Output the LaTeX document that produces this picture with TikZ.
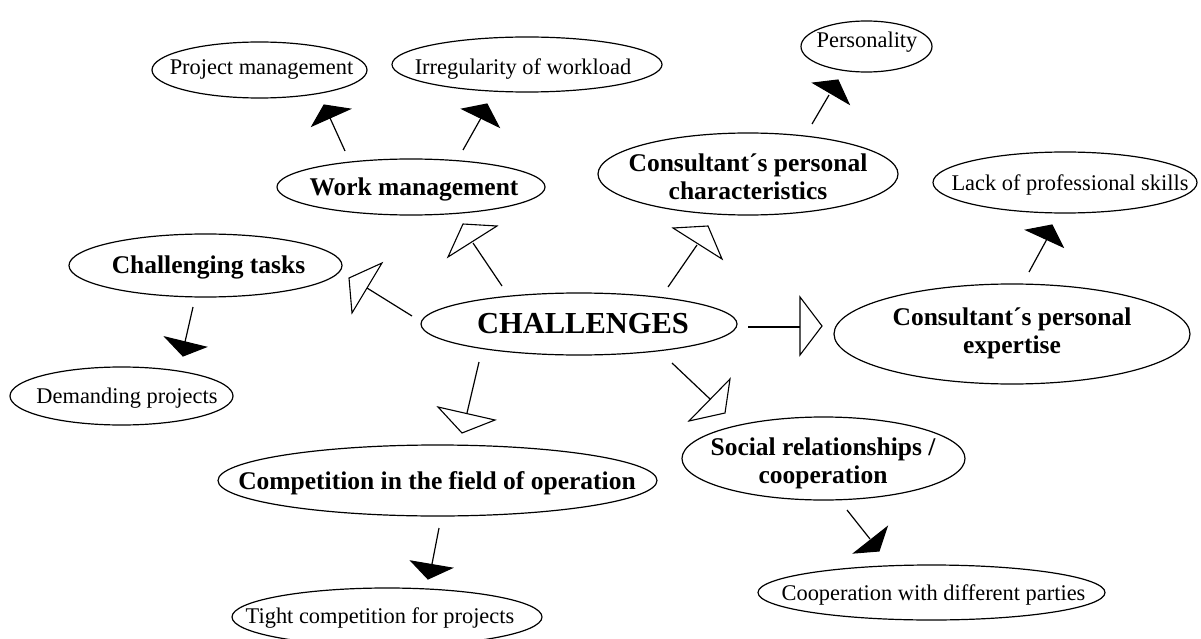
\documentclass[tikz,border=0pt]{standalone}
\usepackage{fontspec}
\setmainfont{Liberation Serif}
\tikzset{
  lbl/.style={inner sep=0pt, align=center, anchor=base},
  lbltwo/.style={inner sep=0pt, align=center, anchor=center},
  ovalline/.style={line width=1.2pt},
  bigfont/.style={font=\fontsize{30.5}{33}\selectfont\bfseries},
  boldfont/.style={font=\fontsize{25.5}{28}\selectfont\bfseries},
  regfont/.style={font=\fontsize{22.4}{25}\selectfont},
  conn/.style={line width=1.2pt},
  tri/.style={line width=1.1pt, line join=miter},
}
\newcommand\arrowtri[6]{%
  \draw[conn] #2 -- #3;
  \draw[tri,fill=#1] #4 -- #5 -- #6 -- cycle;}
\begin{document}
\begin{tikzpicture}[x=1pt,y=-1pt]
\useasboundingbox (0,0) rectangle (1201,639);
% ellipse centres
\coordinate (chc) at (579,324);
\coordinate (wmc) at (411,187);
\coordinate (pmc) at (259.5,70);
\coordinate (iwc) at (527,64.5);
\coordinate (pec) at (866.5,46.5);
\coordinate (ccc) at (748,174);
\coordinate (lpc) at (1065,182.5);
\coordinate (cec) at (1012,334);
\coordinate (ctc) at (205.5,265.5);
\coordinate (dpc) at (121.5,396);
\coordinate (coc) at (437.5,480.5);
\coordinate (tcc) at (387,617);
\coordinate (src) at (823.5,458.5);
\coordinate (cdc) at (931.5,592.5);
% labels
\node[lbl,bigfont] (ch) at (583,333) {CHALLENGES};
\node[lbl,boldfont] (wm) at (414,195) {Work management};
\node[lbl,regfont] (pm) at (261.5,75) {Project management};
\node[lbl,regfont] (iw) at (523,75) {Irregularity of workload};
\node[lbl,regfont] (pe) at (867,48) {Personality};
\node[lbltwo,boldfont] (cc) at (748,177) {Consultant´s personal\\characteristics};
\node[lbl,regfont] (lp) at (1070,190) {Lack of professional skills};
\node[lbltwo,boldfont] (ce) at (1012,333) {Consultant´s personal\\expertise};
\node[lbl,boldfont] (ct) at (208.5,273) {Challenging tasks};
\node[lbl,regfont] (dp) at (127,403) {Demanding projects};
\node[lbl,boldfont] (co) at (437,489) {Competition in the field of operation};
\node[lbl,regfont] (tc) at (380,623) {Tight competition for projects};
\node[lbltwo,boldfont] (sr) at (823,463) {Social relationships /\\cooperation};
\node[lbl,regfont] (cd) at (933.5,600) {Cooperation with different parties};
% ellipses
\draw[ovalline] (chc) ellipse [x radius=158, y radius=31];
\draw[ovalline] (wmc) ellipse [x radius=134, y radius=28];
\draw[ovalline] (pmc) ellipse [x radius=107.5, y radius=28];
\draw[ovalline] (iwc) ellipse [x radius=135, y radius=27.5];
\draw[ovalline] (pec) ellipse [x radius=65.5, y radius=25.5];
\draw[ovalline] (ccc) ellipse [x radius=150, y radius=41];
\draw[ovalline] (lpc) ellipse [x radius=132, y radius=30.5];
\draw[ovalline] (cec) ellipse [x radius=178, y radius=50];
\draw[ovalline] (ctc) ellipse [x radius=136.5, y radius=31.5];
\draw[ovalline] (dpc) ellipse [x radius=111.5, y radius=29];
\draw[ovalline] (coc) ellipse [x radius=219.5, y radius=35.5];
\draw[ovalline] (tcc) ellipse [x radius=155, y radius=29];
\draw[ovalline] (src) ellipse [x radius=141.5, y radius=41.5];
\draw[ovalline] (cdc) ellipse [x radius=173.5, y radius=27.5];
% main arrows (open)
\arrowtri{white}{(502,286)}{(473,243)}{(448,257)}{(463,224)}{(497,226)}
\arrowtri{white}{(412,316)}{(367,288)}{(382,263)}{(349,278)}{(352,313)}
\arrowtri{white}{(668,287)}{(697,245)}{(673,228)}{(708,226)}{(722,259)}
\arrowtri{white}{(479,362)}{(467,413)}{(438,407)}{(462,433)}{(495,420)}
\arrowtri{white}{(672,363)}{(710,399)}{(730,379)}{(725,413)}{(689,421)}
\arrowtri{white}{(748,327)}{(800,327)}{(800,297)}{(822,326)}{(800,355)}
% secondary arrows (filled)
\arrowtri{black}{(345,151)}{(330,118)}{(312,126)}{(324,105)}{(350,109)}
\arrowtri{black}{(463,150)}{(481,118)}{(462,109)}{(487,104)}{(499,127)}
\arrowtri{black}{(812,124)}{(829,95)}{(813,83)}{(838,80)}{(849,104)}
\arrowtri{black}{(1029,272)}{(1047,239)}{(1026,230)}{(1052,225)}{(1063,247)}
\arrowtri{black}{(193,307)}{(185,342)}{(165,337)}{(183,356)}{(206,347)}
\arrowtri{black}{(439,528)}{(432,564)}{(411,561)}{(428,579)}{(452,568)}
\arrowtri{black}{(847,510)}{(870,539)}{(887,527)}{(879,551)}{(854,553)}
\end{tikzpicture}
\end{document}
